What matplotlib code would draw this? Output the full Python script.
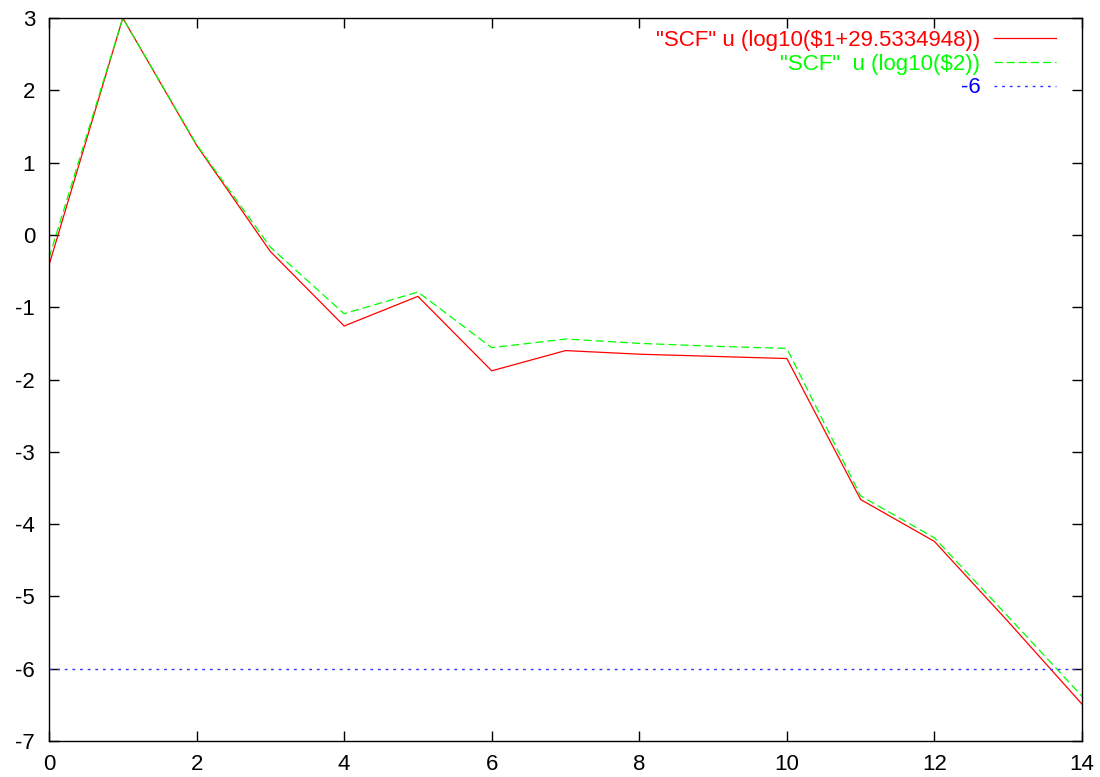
import numpy as np
import matplotlib
matplotlib.use('Agg')
import matplotlib.pyplot as plt

plt.rcParams['font.family'] = ['Liberation Sans', 'DejaVu Sans']
plt.rcParams['axes.unicode_minus'] = False

# data
iters = [0, 1, 2, 3, 4, 5, 6, 7, 8, 9, 10, 11, 12, 13, 14]
scf_shifted = [-0.42, 3.0, 1.24, -0.23, -1.26, -0.85, -1.88, -1.60, -1.65, -1.68, -1.71,
               -3.66, -4.24, -5.35, -6.49]
scf_log = [-0.32, 3.0, 1.25, -0.17, -1.09, -0.79, -1.56, -1.44, -1.50, -1.54, -1.57,
           -3.61, -4.19, -5.28, -6.38]
threshold = -6

labels = ['"SCF" u (log10($1+29.5334948))', '"SCF"  u (log10($2))', '-6']
colors = ['#ff0000', '#00ff00', '#3333ff']

fig = plt.figure(figsize=(11, 7.77), dpi=100)
ax = fig.add_axes([49 / 1100, 36 / 777, (1082 - 49) / 1100, (741 - 18) / 777])

ax.plot(iters, scf_shifted, color=colors[0], lw=0.9, label=labels[0])
ax.plot(iters, scf_log, color=colors[1], lw=0.9, dashes=(6.5, 3.2), label=labels[1])
ax.plot([iters[0], iters[-1]], [threshold, threshold], color=colors[2], lw=1.0,
        dashes=(2.0, 3.5), label=labels[2])

ax.set_xlim(0, 14)
ax.set_ylim(-7, 3)
ax.set_xticks(np.arange(0, 15, 2))
ax.set_yticks(np.arange(-7, 4, 1))
ax.tick_params(direction='in', length=7.2, width=1, top=True, right=True,
               labelsize=16, colors='black')
ax.tick_params(axis='x', pad=9)
ax.tick_params(axis='y', pad=10)
for s in ax.spines.values():
    s.set_linewidth(1)
    s.set_color('black')

# legend: text right-aligned, sample on the right, like gnuplot
leg = ax.legend(loc='upper right', bbox_to_anchor=((1056 - 49) / 1033, 1.0 - 12 / 723),
                frameon=False, markerfirst=False, fontsize=16, handlelength=2.8,
                handletextpad=0.6, labelspacing=0.12, borderaxespad=0, borderpad=0)
for t, c in zip(leg.get_texts(), colors):
    t.set_color(c)
leg.get_texts()[2].set_color('#0000ff')

fig.savefig('out.png', dpi=100)
